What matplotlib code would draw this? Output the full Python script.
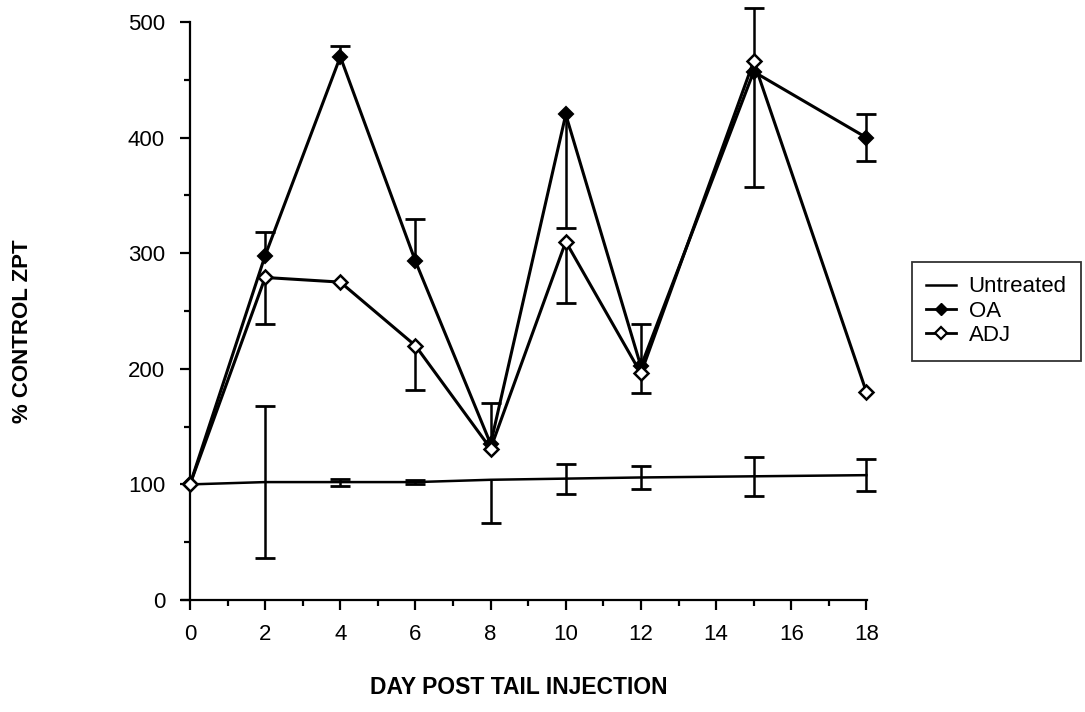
import numpy as np
import matplotlib
matplotlib.use("Agg")
import matplotlib.pyplot as plt
from matplotlib.lines import Line2D

plt.rcParams['font.family'] = ['Liberation Sans', 'DejaVu Sans']

# Days after tail injection
days = [0, 2, 4, 6, 8, 10, 12, 15, 18]

# % control ZPT, mean values
untreated = [100, 102, 102, 102, 104, 105, 106, 107, 108]
oa        = [100, 298, 470, 293, 135, 420, 202, 457, 400]
adj       = [100, 279, 275, 220, 131, 310, 196, 466, 180]

# error bars: (lower, upper) extents
untreated_lo = [0, 66, 3, 1.5, 37, 13, 10, 17, 14]
untreated_hi = [0, 66, 3, 1.5, 0, 13, 10, 17, 14]
oa_lo  = [0, 0, 0, 0, 0, 98, 0, 100, 20]
oa_hi  = [0, 20, 9, 37, 35, 0, 37, 0, 20]
adj_lo = [0, 40, 0, 38, 0, 53, 17, 0, 0]
adj_hi = [0, 0, 0, 0, 0, 0, 0, 46, 0]

x_ticks = list(range(0, 19, 2))
y_ticks = list(range(0, 501, 100))

fig = plt.figure(figsize=(10.85, 7.12), dpi=100)
ax = fig.add_axes([0.1682, 0.1573, 0.631, 0.8118])
ax.set_xlim(-0.2, 18.02)
ax.set_ylim(0, 500)

for s in ['top', 'right']:
    ax.spines[s].set_visible(False)
ax.spines['left'].set_position(('data', 0))
ax.spines['left'].set_linewidth(1.6)
ax.spines['bottom'].set_linewidth(1.6)
ax.spines['left'].set_bounds(0, 500)


def draw_err(xs, ys, lo, hi):
    for x, y, l, h in zip(xs, ys, lo, hi):
        if l <= 0 and h <= 0:
            continue
        ax.plot([x, x], [y - l, y + h], color='black', lw=1.8, zorder=2,
                solid_capstyle='butt', clip_on=False)
        if l > 0:
            ax.plot([x], [y - l], marker='_', ms=14, mew=2.0,
                    color='black', zorder=2, clip_on=False)
        if h > 0:
            ax.plot([x], [y + h], marker='_', ms=14, mew=2.0,
                    color='black', zorder=2, clip_on=False)


draw_err(days, untreated, untreated_lo, untreated_hi)
draw_err(days, oa, oa_lo, oa_hi)
draw_err(days, adj, adj_lo, adj_hi)

ax.plot(days, untreated, color='black', lw=1.8, zorder=3, clip_on=False)
ax.plot(days, oa, color='black', lw=2.2, marker='D', ms=7,
        mfc='black', mec='black', mew=1.5, zorder=4, clip_on=False)
ax.plot(days, adj, color='black', lw=2.2, marker='D', ms=7,
        mfc='white', mec='black', mew=1.8, zorder=5, clip_on=False)

ax.set_xticks(x_ticks)
ax.set_xticks(range(0, 19), minor=True)
ax.set_yticks(y_ticks)
ax.set_yticks(range(0, 501, 50), minor=True)
ax.tick_params(axis='both', which='major', direction='out', length=7,
               width=1.6, labelsize=16, colors='black')
ax.tick_params(axis='both', which='minor', direction='out', length=4,
               width=1.6)
ax.tick_params(axis='x', pad=10)
ax.tick_params(axis='y', pad=11)

fig.text(0.478, 0.018, 'DAY POST TAIL INJECTION', ha='center', va='bottom',
         fontsize=16.5, fontweight='bold')
fig.text(0.021, 0.535, '% CONTROL ZPT', ha='center', va='center',
         rotation=90, fontsize=16, fontweight='bold')

handles = [
    Line2D([], [], color='black', lw=1.8),
    Line2D([], [], color='black', lw=2.0, marker='D', ms=6.5,
           mfc='black', mec='black'),
    Line2D([], [], color='black', lw=2.0, marker='D', ms=6.5,
           mfc='white', mec='black', mew=1.6),
]
leg = fig.legend(handles, ['Untreated', 'OA', 'ADJ'], loc='upper left',
                 bbox_to_anchor=(0.8406, 0.632), frameon=True, fancybox=False,
                 fontsize=16, handlelength=1.35, handletextpad=0.55,
                 labelspacing=0.15, borderpad=0.65, borderaxespad=0)
leg.get_frame().set_edgecolor('black')
leg.get_frame().set_linewidth(1.3)

fig.savefig('out.png', dpi=100)
